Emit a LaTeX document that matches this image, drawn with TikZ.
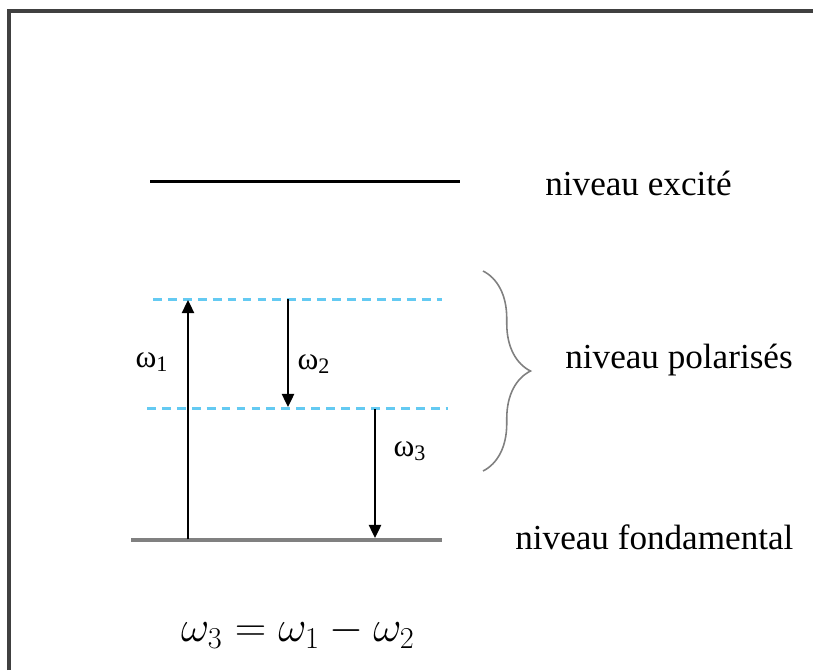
\documentclass[tikz,border=0pt]{standalone}
\usepackage{fontspec}
\setmainfont{Liberation Serif}
\usetikzlibrary{arrows.meta,positioning,decorations.pathreplacing}
\definecolor{virtcyan}{RGB}{100,202,242}
\definecolor{framegray}{RGB}{64,64,64}

\begin{document}
\begin{tikzpicture}[
    x=0.02cm, y=-0.02cm,
    frame/.style={draw=framegray, line width=1.8pt},
    level/.style={draw=black, line width=1.7pt},
    ground/.style={draw=gray, line width=2.3pt},
    virtual/.style={draw=virtcyan, line width=1.7pt, dash pattern=on 5pt off 3.5pt},
    trans/.style={-{Triangle[length=7.5pt, width=7pt]}, line width=1.1pt},
    lvllabel/.style={anchor=west, inner sep=0pt, font=\fontsize{20}{24}\selectfont},
    wlabel/.style={inner sep=0pt, font=\fontsize{18}{21}\selectfont},
    bracket/.style={draw=gray, line width=0.9pt, decorate, decoration={brace, amplitude=0.95cm}}
  ]
    \useasboundingbox (0,0) rectangle (813,670);
    \draw[frame] (9,670) -- (9,11) -- (813,11);

    \coordinate (exL) at (150,181);
    \coordinate (exR) at (460,181);
    \coordinate (v1L) at (153,299);
    \coordinate (v1R) at (442,299);
    \coordinate (v2L) at (147,408);
    \coordinate (v2R) at (448,408);
    \coordinate (gL) at (131,540);
    \coordinate (gR) at (442,540);

    \draw[level] (exL) -- (exR);
    \draw[virtual] (v1L) -- (v1R);
    \draw[virtual] (v2L) -- (v2R);
    \draw[ground] (gL) -- (gR);

    \coordinate (w1a) at (188,539);
    \coordinate (w1b) at (188,300);
    \coordinate (w2a) at (288,299);
    \coordinate (w2b) at (288,407);
    \coordinate (w3a) at (375,409);
    \coordinate (w3b) at (375,538);
    \draw[trans] (w1a) -- (w1b);
    \draw[trans] (w2a) -- (w2b);
    \draw[trans] (w3a) -- (w3b);

    \node[wlabel] (l1) at (152,362) {ω\textsubscript{1}};
    \node[wlabel] (l2) at (314,364) {ω\textsubscript{2}};
    \node[wlabel] (l3) at (410,451) {ω\textsubscript{3}};

    \coordinate (brT) at (483,271);
    \coordinate (brB) at (483,471);
    \draw[bracket] (brT) -- (brB);

    \node[lvllabel] (exc) at (545,183) {niveau excité};
    \node[lvllabel] (pol) at (565,360) {niveau polarisés};
    \node[lvllabel] (fond) at (515,537) {niveau fondamental};

    \node[inner sep=0pt, font=\fontsize{23}{27}\selectfont] (rel) at (298,632) {$\omega_3=\omega_1-\omega_2$};
  \end{tikzpicture}
\end{document}
